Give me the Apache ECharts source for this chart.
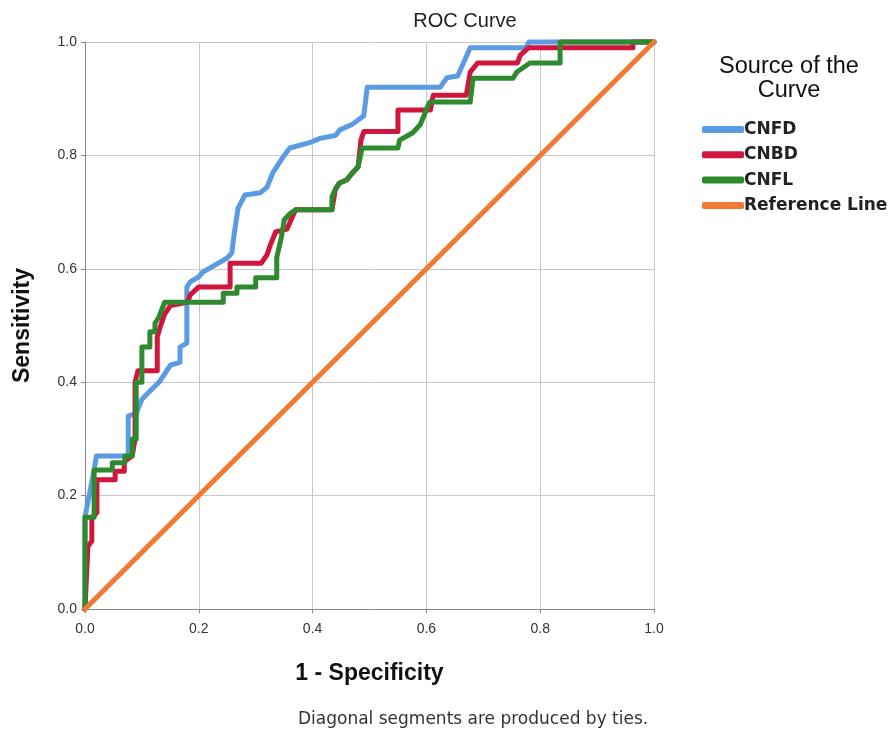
<!DOCTYPE html>
<html><head><meta charset="utf-8">
<script src="https://cdn.jsdelivr.net/npm/echarts@6/dist/echarts.min.js"></script>
<style>html,body{margin:0;padding:0;background:#fff}#c{width:888px;height:731px}</style>
</head><body><div id="c"></div>
<script>
const xTicks = [0, 0.2, 0.4, 0.6, 0.8, 1.0];
const seriesNames = ['CNFD', 'CNBD', 'CNFL', 'Reference Line'];

const cnfdFpr = [0,0,0.016,0.02,0.076,0.076,0.09,0.1,0.11,0.13,0.137,0.15,0.167,0.167,0.179,0.179,0.185,0.2,0.207,0.25,0.258,0.262,0.269,0.281,0.308,0.32,0.33,0.348,0.36,0.399,0.413,0.44,0.448,0.47,0.49,0.496,0.624,0.636,0.655,0.677,0.775,0.78,1];
const cnfdTpr = [0,0.162,0.245,0.27,0.27,0.34,0.345,0.37,0.38,0.40,0.41,0.43,0.435,0.462,0.469,0.568,0.577,0.586,0.594,0.619,0.628,0.66,0.707,0.73,0.734,0.744,0.769,0.797,0.813,0.824,0.83,0.835,0.845,0.855,0.87,0.92,0.92,0.937,0.94,0.99,0.99,1,1];

const cnbdFpr = [0,0.005,0.012,0.012,0.021,0.021,0.053,0.053,0.069,0.069,0.083,0.088,0.088,0.093,0.127,0.127,0.133,0.14,0.15,0.18,0.185,0.2,0.255,0.255,0.31,0.32,0.325,0.335,0.355,0.37,0.434,0.44,0.447,0.46,0.47,0.48,0.485,0.49,0.55,0.55,0.607,0.612,0.67,0.677,0.69,0.76,0.765,0.78,0.963,0.963,1];
const cnbdTpr = [0,0.11,0.12,0.16,0.17,0.228,0.228,0.243,0.243,0.26,0.27,0.30,0.40,0.42,0.42,0.48,0.50,0.52,0.535,0.541,0.554,0.568,0.568,0.61,0.61,0.625,0.64,0.665,0.67,0.704,0.704,0.74,0.751,0.757,0.769,0.78,0.827,0.842,0.842,0.88,0.88,0.906,0.906,0.947,0.963,0.963,0.977,0.99,0.99,1,1];

const cnflFpr = [0,0,0.016,0.016,0.048,0.048,0.07,0.07,0.083,0.083,0.09,0.09,0.1,0.1,0.114,0.114,0.123,0.123,0.13,0.14,0.243,0.243,0.267,0.267,0.3,0.3,0.337,0.337,0.345,0.35,0.36,0.37,0.434,0.434,0.44,0.447,0.46,0.47,0.48,0.487,0.55,0.553,0.576,0.589,0.595,0.601,0.606,0.612,0.677,0.682,0.752,0.759,0.782,0.835,0.835,1];
const cnflTpr = [0,0.162,0.162,0.245,0.245,0.258,0.258,0.27,0.27,0.30,0.30,0.40,0.40,0.462,0.462,0.489,0.489,0.504,0.515,0.541,0.541,0.557,0.557,0.568,0.568,0.584,0.584,0.62,0.655,0.686,0.697,0.704,0.704,0.727,0.74,0.751,0.757,0.769,0.78,0.813,0.813,0.827,0.84,0.854,0.868,0.884,0.894,0.894,0.894,0.936,0.936,0.947,0.963,0.963,1,1];

const refFpr = [0, 1];
const refTpr = [0, 1];

const colors = ['#5b9be3', '#d0163c', '#2f8a2f', '#f07a33'];
const zip = (a, b) => a.map((v, i) => [v, b[i]]);
const dataSets = [zip(cnfdFpr, cnfdTpr), zip(cnbdFpr, cnbdTpr), zip(cnflFpr, cnflTpr), zip(refFpr, refTpr)];

const chart = echarts.init(document.getElementById('c'));
chart.setOption({
  animation: false,
  backgroundColor: '#fff',
  title: [
    { text: 'ROC Curve', left: 460, top: 6, textAlign: 'center',
      textStyle: { fontFamily: 'Liberation Sans', fontSize: 20, fontWeight: 'normal', color: '#222' } },
    { text: 'Source of the\nCurve', left: 784, top: 50, textAlign: 'center',
      textStyle: { fontFamily: 'Liberation Sans', fontSize: 23.5, fontWeight: 'normal', color: '#111', lineHeight: 24 } },
    { text: 'Diagonal segments are produced by ties.', left: 293, top: 706,
      textStyle: { fontFamily: 'DejaVu Sans', fontSize: 17, fontWeight: 'normal', color: '#333' } }
  ],
  legend: {
    orient: 'vertical', left: 697, top: 116,
    itemWidth: 42, itemHeight: 7, itemGap: 8.3, icon: 'roundRect',
    textStyle: { fontFamily: 'DejaVu Sans', fontSize: 17, fontWeight: 'bold', color: '#222', padding: [0, 0, 0, -5] },
    data: seriesNames
  },
  grid: { left: 85, top: 42, width: 569, height: 567, show: false },
  xAxis: {
    type: 'value', min: 0, max: 1, interval: 0.2,
    name: '1 - Specificity', nameLocation: 'middle', nameGap: 53,
    nameTextStyle: { fontFamily: 'Liberation Sans', fontSize: 23, fontWeight: 'bold', color: '#111' },
    axisLine: { show: true, lineStyle: { color: '#888', width: 1 } },
    axisTick: { show: true, length: 4, lineStyle: { color: '#888' } },
    axisLabel: { fontFamily: 'Liberation Sans', fontSize: 14, color: '#333', margin: 13,
      formatter: v => v.toFixed(1) },
    splitLine: { show: true, lineStyle: { color: '#c8c8c8', width: 1 } }
  },
  yAxis: {
    type: 'value', min: 0, max: 1, interval: 0.2,
    name: 'Sensitivity', nameLocation: 'middle', nameGap: 51, nameRotate: 90,
    nameTextStyle: { fontFamily: 'Liberation Sans', fontSize: 23, fontWeight: 'bold', color: '#111' },
    axisLine: { show: true, lineStyle: { color: '#888', width: 1 } },
    axisTick: { show: true, length: 4, lineStyle: { color: '#888' } },
    axisLabel: { fontFamily: 'Liberation Sans', fontSize: 14, color: '#333', margin: 8,
      formatter: v => v.toFixed(1) },
    splitLine: { show: true, lineStyle: { color: '#c8c8c8', width: 1 } }
  },
  series: seriesNames.map((n, i) => ({
    name: n, type: 'line', data: dataSets[i], showSymbol: false, symbol: 'none',
    color: colors[i], lineStyle: { width: 5, color: colors[i], join: 'round', cap: 'round' },
    z: 2 + i, clip: false
  }))
});
</script></body></html>
